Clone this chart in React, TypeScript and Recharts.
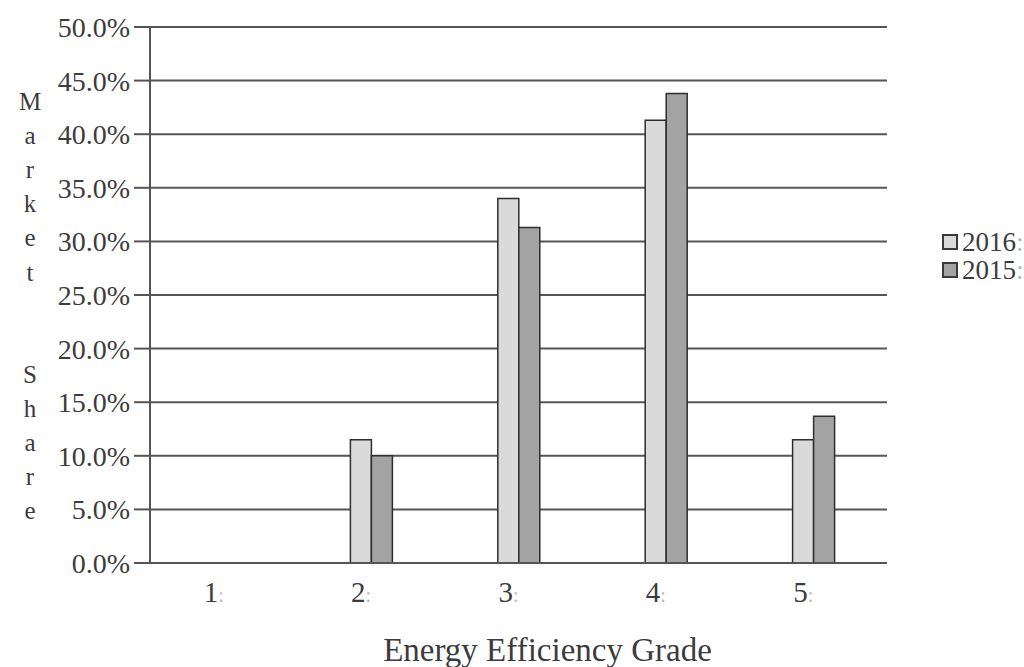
import React from "react";
import {
  Bar,
  BarChart,
  CartesianGrid,
  XAxis,
  YAxis,
} from "recharts";

const grades = ["1", "2", "3", "4", "5"];
const share2016 = [0, 11.5, 34.0, 41.3, 11.5];
const share2015 = [0, 10.0, 31.3, 43.8, 13.7];
const yTicks = [0, 5, 10, 15, 20, 25, 30, 35, 40, 45, 50];
const edgeTicks = [0, 1, 2, 3, 4, 5];

const series = [
  { key: "y2016", name: "2016", fill: "#dadada" },
  { key: "y2015", name: "2015", fill: "#a3a3a3" },
];

const data = grades.map((g, i) => ({
  grade: g,
  y2016: share2016[i],
  y2015: share2015[i],
}));

const FONT = "Liberation Serif, DejaVu Serif, serif";
const INK = "#3c3c3c";
const LINE = "#555555";

const GradeTick = (props: any) => {
  const { x, y, payload } = props;
  return (
    <text
      x={x - 10}
      y={y + 31}
      textAnchor="middle"
      style={{ fontFamily: FONT }}
      fontSize={29}
      fill={INK}
    >
      {payload.value}
      <tspan fill="#b8b8b8" fontSize={20}>:</tspan>
    </text>
  );
};

// vertical "Market Share" title, one letter per row
const VerticalTitle = () => {
  const letters = "Market  Share".split("");
  return (
    <g>
      {letters.map((ch, i) =>
        ch === " " ? null : (
          <text
            key={i}
            x={30}
            y={110 + i * 34.1}
            textAnchor="middle"
            style={{ fontFamily: FONT }}
            fontSize={25}
            fill={INK}
          >
            {ch}
          </text>
        )
      )}
    </g>
  );
};

export default function App() {
  return (
    <div
      style={{
        position: "absolute",
        left: 0,
        top: 0,
        width: 1024,
        height: 667,
        background: "#fff",
        fontFamily: FONT,
      }}
    >
      <BarChart
        width={1024}
        height={667}
        data={data}
        margin={{ top: 27, right: 137, left: 0, bottom: 0 }}
        barGap={0}
        barSize={21}
        style={{ fontFamily: FONT }}
      >
        <CartesianGrid vertical={false} stroke={LINE} strokeWidth={2} />
        <XAxis
          dataKey="grade"
          height={104}
          axisLine={{ stroke: LINE, strokeWidth: 2 }}
          tickLine={false}
          tick={<GradeTick />}
          label={{
            value: "Energy Efficiency Grade",
            position: "insideBottom",
            offset: 6,
            dx: 29,
            fontSize: 33,
            fill: INK,
            style: { fontFamily: FONT },
          }}
        />
        {/* tick marks between the categories */}
        <XAxis
          xAxisId="edges"
          type="number"
          domain={[0, 5]}
          ticks={edgeTicks}
          height={0}
          axisLine={false}
          tickSize={10}
          tickLine={{ stroke: LINE, strokeWidth: 2 }}
          tickFormatter={() => ""}
        />
        <YAxis
          width={150}
          domain={[0, 50]}
          ticks={yTicks}
          interval={0}
          tickFormatter={(v: number) => `${v.toFixed(1)}%`}
          axisLine={{ stroke: LINE, strokeWidth: 2 }}
          tickLine={{ stroke: LINE, strokeWidth: 2 }}
          tickSize={16}
          tickMargin={4}
          tick={{ fontSize: 28, fill: INK, style: { fontFamily: FONT } }}
          label={{ content: () => <VerticalTitle /> }}
        />
        <YAxis
          yAxisId="edge"
          orientation="right"
          width={0}
          domain={[0, 50]}
          tick={false}
          tickLine={false}
          axisLine={{ stroke: LINE, strokeWidth: 2 }}
        />
        {series.map((s) => (
          <Bar
            key={s.key}
            dataKey={s.key}
            name={s.name}
            fill={s.fill}
            stroke="#2e2e2e"
            strokeWidth={1.5}
            isAnimationActive={false}
          />
        ))}
      </BarChart>
      <div
        style={{
          position: "absolute",
          left: 942,
          top: 228,
          fontSize: 27,
          color: INK,
          lineHeight: "28px",
          whiteSpace: "nowrap",
        }}
      >
        {series.map((s) => (
          <div key={s.key} style={{ display: "flex", alignItems: "center" }}>
            <span
              style={{
                display: "inline-block",
                width: 12,
                height: 12,
                background: s.fill,
                border: "2px solid #3a3a3a",
                marginRight: 4,
              }}
            />
            {s.name}
            <span style={{ color: "#b8b8b8" }}>:</span>
          </div>
        ))}
      </div>
    </div>
  );
}
